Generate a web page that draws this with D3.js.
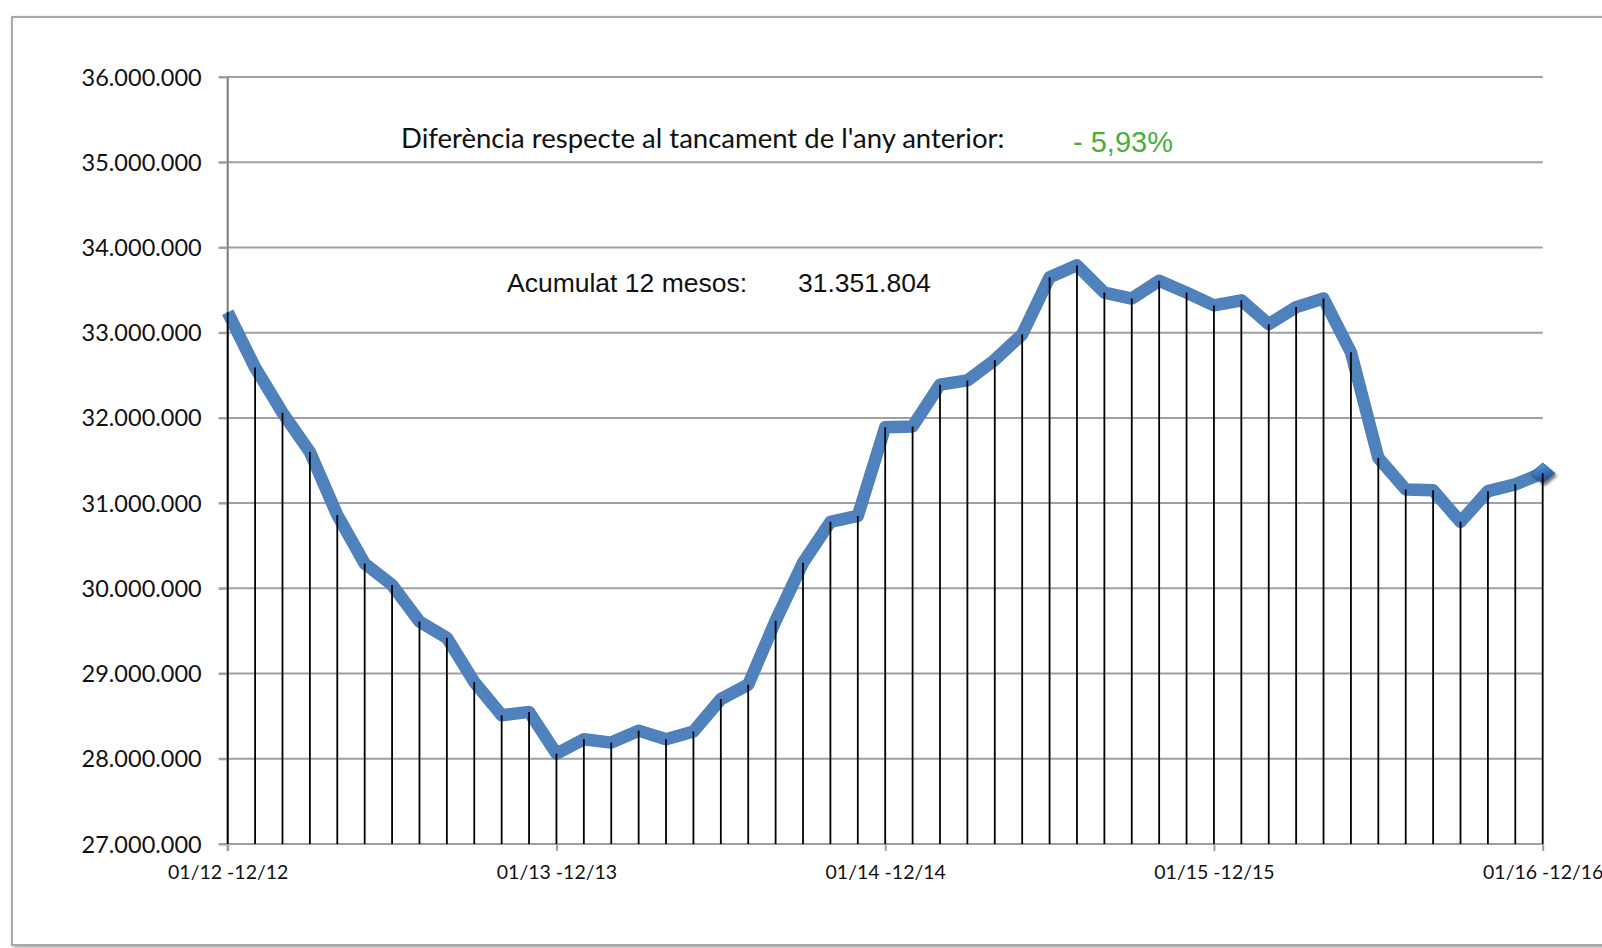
<!DOCTYPE html>
<html>
<head>
<meta charset="utf-8">
<script src="https://cdn.jsdelivr.net/npm/d3@7"></script>
<style>
  html, body { margin: 0; padding: 0; background: #fff; }
  svg { display: block; }
</style>
</head>
<body>
<svg id="chart" width="1602" height="948"></svg>
<script>
// ---------- DATA ----------
const categories = [
  "01/12 -12/12","02/12 -01/13","03/12 -02/13","04/12 -03/13","05/12 -04/13","06/12 -05/13",
  "07/12 -06/13","08/12 -07/13","09/12 -08/13","10/12 -09/13","11/12 -10/13","12/12 -11/13",
  "01/13 -12/13","02/13 -01/14","03/13 -02/14","04/13 -03/14","05/13 -04/14","06/13 -05/14",
  "07/13 -06/14","08/13 -07/14","09/13 -08/14","10/13 -09/14","11/13 -10/14","12/13 -11/14",
  "01/14 -12/14","02/14 -01/15","03/14 -02/15","04/14 -03/15","05/14 -04/15","06/14 -05/15",
  "07/14 -06/15","08/14 -07/15","09/14 -08/15","10/14 -09/15","11/14 -10/15","12/14 -11/15",
  "01/15 -12/15","02/15 -01/16","03/15 -02/16","04/15 -03/16","05/15 -04/16","06/15 -05/16",
  "07/15 -06/16","08/15 -07/16","09/15 -08/16","10/15 -09/16","11/15 -10/16","12/15 -11/16",
  "01/16 -12/16"
];
const values = [
  33240000, 32590000, 32060000, 31600000, 30860000, 30290000,
  30040000, 29610000, 29420000, 28900000, 28510000, 28550000,
  28060000, 28230000, 28190000, 28330000, 28230000, 28320000,
  28700000, 28870000, 29620000, 30300000, 30780000, 30850000,
  31890000, 31900000, 32390000, 32440000, 32680000, 32980000,
  33650000, 33790000, 33470000, 33400000, 33610000, 33470000,
  33320000, 33380000, 33100000, 33300000, 33400000, 32770000,
  31530000, 31160000, 31150000, 30780000, 31140000, 31220000,
  31351804
];
const yTicks = [27000000, 28000000, 29000000, 30000000, 31000000, 32000000, 33000000, 34000000, 35000000, 36000000];
const xTickLabels = ["01/12 -12/12", "01/13 -12/13", "01/14 -12/14", "01/15 -12/15", "01/16 -12/16"];
const noteLabel = "Diferència respecte al tancament de l'any anterior:";
const noteValue = "- 5,93%";
const accLabel = "Acumulat 12 mesos:";
const accValue = "31.351.804";

// ---------- LAYOUT ----------
const svg = d3.select("#chart");
const pLeft = 227.7, pRight = 1542.7, pTop = 77, pBottom = 844;

const x = d3.scalePoint().domain(categories).range([pLeft, pRight]);
const y = d3.scaleLinear().domain([27000000, 36000000]).range([pBottom, pTop]);

const locale = d3.formatLocale({decimal: ",", thousands: ".", grouping: [3], currency: ["", "€"]});
const fmt = locale.format(",d");

// defs
const defs = svg.append("defs");
const shadow = defs.append("filter").attr("id", "frameShadow").attr("x", "-5%").attr("y", "-5%").attr("width", "110%").attr("height", "110%");
shadow.append("feGaussianBlur").attr("in", "SourceAlpha").attr("stdDeviation", 2).attr("result", "b");
shadow.append("feOffset").attr("in", "b").attr("dx", 2).attr("dy", 2).attr("result", "o");
shadow.append("feComponentTransfer").attr("in", "o").attr("result", "o2")
  .append("feFuncA").attr("type", "linear").attr("slope", 0.35);
const mg = shadow.append("feMerge");
mg.append("feMergeNode").attr("in", "o2");
mg.append("feMergeNode").attr("in", "SourceGraphic");

const grad = defs.append("linearGradient").attr("id", "diam").attr("x1", 0).attr("y1", 0).attr("x2", 0.4).attr("y2", 1);
grad.append("stop").attr("offset", "0%").attr("stop-color", "#6fa8ec");
grad.append("stop").attr("offset", "45%").attr("stop-color", "#3f7cc6");
grad.append("stop").attr("offset", "100%").attr("stop-color", "#24508a");

const mshadow = defs.append("filter").attr("id", "mShadow").attr("x", "-50%").attr("y", "-50%").attr("width", "200%").attr("height", "200%");
mshadow.append("feDropShadow").attr("dx", 2).attr("dy", 2.5).attr("stdDeviation", 1.8).attr("flood-color", "#000").attr("flood-opacity", 0.55);

// frame
svg.append("rect")
  .attr("x", 12).attr("y", 17).attr("width", 1640).attr("height", 928)
  .attr("fill", "#fff").attr("stroke", "#a8a8a8").attr("stroke-width", 2)
  .attr("filter", "url(#frameShadow)");

// gridlines
svg.append("g").selectAll("line").data(yTicks).join("line")
  .attr("x1", pLeft - 9).attr("x2", pRight)
  .attr("y1", d => y(d)).attr("y2", d => y(d))
  .attr("stroke", "#a0a0a0").attr("stroke-width", 2);

// y axis
const yAxis = svg.append("g").attr("transform", `translate(${pLeft},0)`)
  .call(d3.axisLeft(y).tickValues(yTicks).tickFormat(fmt).tickSize(9).tickPadding(17));
yAxis.select(".domain").attr("stroke", "#7a7a7a").attr("stroke-width", 2).attr("d", `M0,${pTop}V${pBottom + 7}`);
yAxis.selectAll(".tick line").attr("stroke", "#a0a0a0").attr("stroke-width", 2);
yAxis.selectAll("text")
  .attr("font-family", "Lato, 'Open Sans', sans-serif")
  .attr("font-size", 23.5).attr("fill", "#111").attr("dy", "0.34em");

// x axis
const xAxis = svg.append("g").attr("transform", `translate(0,${pBottom})`)
  .call(d3.axisBottom(x).tickValues(xTickLabels).tickSize(7).tickPadding(14));
xAxis.select(".domain").attr("stroke", "#a0a0a0").attr("stroke-width", 2).attr("d", `M${pLeft},0H${pRight}`);
xAxis.selectAll(".tick line").attr("stroke", "#a0a0a0").attr("stroke-width", 2);
xAxis.selectAll("text")
  .attr("font-family", "Lato, 'Open Sans', sans-serif")
  .attr("font-size", 19.5).attr("fill", "#111").attr("dy", "0.71em");

// line
const data = categories.map((c, i) => ({c, v: values[i]}));
svg.append("path").datum(data)
  .attr("d", d3.line().x(d => x(d.c)).y(d => y(d.v)))
  .attr("fill", "none").attr("stroke", "#4f81bd").attr("stroke-width", 12.5)
  .attr("stroke-linejoin", "round").attr("stroke-linecap", "butt");

// last point marker
const last = data[data.length - 1];
const lx = x(last.c), ly = y(last.v);
svg.append("path")
  .attr("d", `M${lx},${ly - 10}L${lx + 12},${ly}L${lx},${ly + 10}L${lx - 12},${ly}Z`)
  .attr("fill", "url(#diam)").attr("stroke", "#2c5c98").attr("stroke-width", 1)
  .attr("filter", "url(#mShadow)");

// drop lines
svg.append("g").selectAll("line").data(data).join("line")
  .attr("x1", d => x(d.c)).attr("x2", d => x(d.c))
  .attr("y1", d => y(d.v)).attr("y2", pBottom)
  .attr("stroke", "#000").attr("stroke-width", 1.8);

// annotations
function fitText(sel, target) {
  const w = sel.node().getComputedTextLength();
  const fs = parseFloat(sel.attr("font-size"));
  sel.attr("font-size", fs * target / w);
}
const t1 = svg.append("text").attr("x", 401).attr("y", 148)
  .attr("font-family", "Lato, 'Open Sans', sans-serif").attr("font-size", 25)
  .attr("fill", "#111").text(noteLabel);
fitText(t1, 604);
svg.append("text").attr("x", 1073).attr("y", 152)
  .attr("font-family", "'Liberation Sans', Arial, sans-serif").attr("font-size", 29)
  .attr("fill", "#4aad3c").text(noteValue);
svg.append("text").attr("x", 507).attr("y", 292)
  .attr("font-family", "'Liberation Sans', Arial, sans-serif").attr("font-size", 26.5)
  .attr("fill", "#111").text(accLabel);
svg.append("text").attr("x", 798).attr("y", 292)
  .attr("font-family", "'Liberation Sans', Arial, sans-serif").attr("font-size", 26.5)
  .attr("fill", "#111").text(accValue);
</script>
</body>
</html>
